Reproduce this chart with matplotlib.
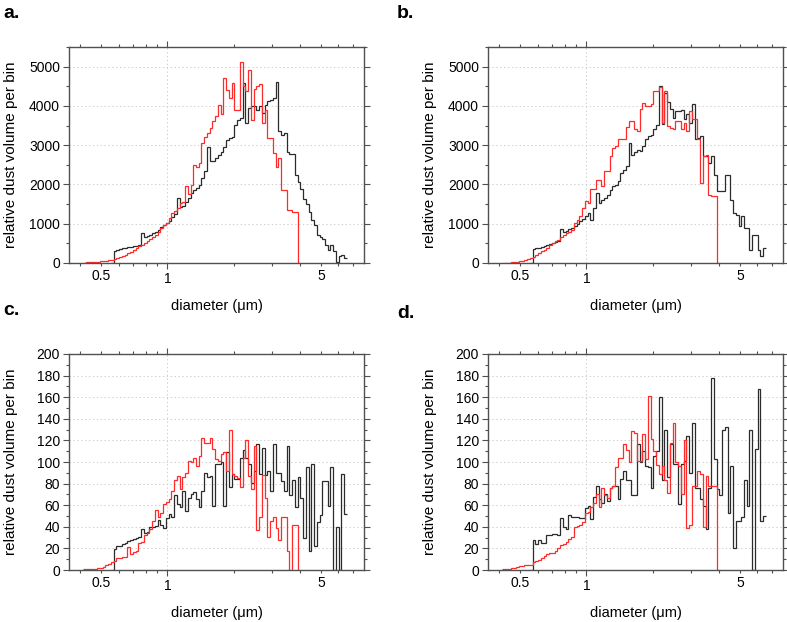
import numpy as np
import matplotlib
matplotlib.use("Agg")
import matplotlib.pyplot as plt
from matplotlib.ticker import MultipleLocator, LogLocator, FuncFormatter

plt.rcParams['font.family'] = ['Liberation Sans', 'DejaVu Sans']

# log-spaced bin edges (diameter, um)
bin_start = 0.38
bin_step_dec = 0.0125
edges = 10 ** (np.log10(bin_start) + bin_step_dec * np.arange(100))

# ---- panel a ----
a_black_start = 13
a_black = [0, 314, 340, 355, 370, 385, 400, 415, 430, 440, 450, 757, 655, 680, 720, 760, 800, 850, 910, 960,
           1030, 1080, 1180, 1250, 1666, 1436, 1450, 1560, 1650, 1773, 1850, 1900, 1989, 2160, 2330, 2966,
           2585, 2600, 2680, 2750, 2830, 2950, 3136, 3179, 3200, 3519, 3647, 3700, 4581, 3561, 3944, 3987,
           3990, 3902, 3990, 3817, 4030, 4114, 4157, 4200, 4600, 3349, 3264, 3300, 2830, 2788, 2788, 2235,
           2065, 1895, 1640, 1512, 1300, 1097, 961, 706, 650, 621, 451, 324, 451, 300, 26, 170, 196, 136]
a_red_start = 3
a_red = [10, 15, 20, 25, 30, 35, 40, 45, 55, 65, 80, 100, 125, 150, 180, 210, 250, 290, 330, 380, 425, 470,
         510, 550, 610, 660, 720, 800, 890, 960, 1020, 1150, 1270, 1330, 1400, 1530, 1550, 1950, 1750, 1990,
         2500, 2450, 2550, 3056, 3200, 3307, 3434, 3604, 3748, 4030, 3800, 4709, 4411, 4199, 4581, 3900,
         3900, 5108, 4496, 4369, 4922, 3647, 4428, 4500, 4556, 3561, 3900, 3179, 3179, 2796, 2456, 2669,
         1861, 1861, 1351, 1351, 1309, 1309, 0]

# ---- panel b ----
b_black_start = 13
b_black = [0, 357, 370, 390, 410, 425, 450, 480, 510, 527, 560, 867, 782, 820, 860, 892, 935, 1000, 1062, 1120,
           1190, 1275, 1105, 1400, 1785, 1530, 1600, 1657, 1742, 1870, 1955, 1997, 2100, 2295, 2380, 2465,
           3060, 2762, 2830, 2890, 2860, 2975, 3145, 3230, 3250, 3417, 3502, 4505, 3527, 4335, 4100, 3910,
           3697, 3867, 3880, 3893, 3655, 3800, 3570, 4037, 3145, 3187, 3230, 2720, 2720, 2550, 2720, 2252,
           1827, 1827, 1827, 2252, 2252, 1615, 1275, 1232, 935, 1190, 892, 892, 340, 722, 722, 340, 170, 382]
b_red_start = 3
b_red = [5, 8, 12, 16, 22, 30, 42, 55, 75, 100, 127, 160, 200, 250, 297, 340, 390, 467, 500, 550, 595, 650,
         722, 760, 800, 850, 1020, 1100, 1190, 1400, 1590, 1530, 1887, 1887, 2125, 2125, 1955, 2337, 2337,
         2720, 2932, 2975, 3145, 3145, 3145, 3468, 3612, 3612, 3400, 3357, 3910, 4080, 3995, 3995, 4037,
         4377, 4377, 4488, 3570, 4377, 3485, 3442, 3400, 3612, 3612, 3400, 3570, 3357, 3867, 3655, 3655,
         3145, 2040, 2720, 2762, 1742, 1700, 1700, 0]

# ---- panel c ----
c_black_start = 13
c_black = [0, 19, 22, 22, 24, 25, 27, 28, 29, 30, 31, 38, 34, 35, 40, 40, 41, 46, 42, 39, 48, 52, 49, 69, 61,
           58, 73, 55, 67, 70, 72, 66, 58, 73, 90, 86, 87, 59, 98, 98, 100, 59, 109, 77, 89, 84, 84, 104, 111,
           104, 98, 81, 92, 117, 89, 113, 88, 92, 73, 117, 90, 90, 82, 73, 115, 69, 83, 58, 86, 67, 30, 95,
           18, 98, 22, 44, 51, 82, 82, 59, 95, 0, 40, 0, 89, 52]
c_red_start = 3
c_red = [1, 1, 1, 1, 1, 2, 2, 3, 5, 6, 7, 8, 11, 11, 12, 12, 21, 15, 17, 18, 25, 26, 32, 34, 38, 45, 56, 49,
         53, 61, 63, 66, 73, 83, 87, 75, 86, 90, 101, 100, 104, 96, 106, 122, 118, 118, 122, 112, 103, 101,
         107, 109, 92, 130, 89, 87, 85, 77, 104, 120, 87, 75, 115, 37, 49, 88, 67, 31, 45, 49, 39, 28, 49,
         49, 18, 0, 42, 42, 0]

# ---- panel d ----
d_black_start = 13
d_black = [0, 28, 24, 28, 25, 25, 32, 32, 33, 33, 32, 48, 40, 38, 51, 49, 49, 49, 48, 48, 57, 59, 47, 68, 78,
           66, 62, 70, 64, 76, 78, 78, 66, 84, 92, 83, 83, 69, 69, 117, 100, 110, 96, 95, 76, 106, 110, 160,
           83, 130, 86, 117, 98, 98, 61, 98, 101, 124, 90, 136, 76, 76, 66, 59, 38, 76, 178, 103, 75, 69, 130,
           132, 53, 96, 20, 45, 45, 49, 83, 59, 130, 0, 112, 168, 45, 50]
d_red_start = 3
d_red = [0.5, 1, 1, 1.5, 2, 3, 4, 4, 5, 5, 5, 7, 8, 9, 11, 13, 15, 16, 16, 18, 20, 23, 24, 26, 29, 31, 40, 41,
         42, 44, 53, 54, 58, 62, 70, 58, 76, 69, 67, 76, 78, 95, 104, 104, 117, 111, 100, 129, 127, 101, 101,
         126, 103, 161, 121, 110, 97, 89, 96, 83, 71, 118, 136, 100, 96, 70, 120, 39, 42, 78, 78, 92, 89, 40,
         87, 78, 78, 78, 0]

panels = [
    ("a.", a_black_start, a_black, a_red_start, a_red, 5500, 1000, 500),
    ("b.", b_black_start, b_black, b_red_start, b_red, 5500, 1000, 500),
    ("c.", c_black_start, c_black, c_red_start, c_red, 200, 20, 10),
    ("d.", d_black_start, d_black, d_red_start, d_red, 200, 20, 10),
]

W, H = 787, 622
fig = plt.figure(figsize=(W / 100, H / 100), dpi=100)

boxes = [(69, 47), (488, 47), (69, 354), (488, 354)]
aw, ah = 295, 216
letter_pos = [(3, 18), (397, 18), (3, 315), (397, 318)]

SPINE = '#505050'


def minor_fmt(x, pos):
    for v, s in ((0.5, '0.5'), (5, '5')):
        if abs(x - v) < 1e-6 * v:
            return s
    return ''


for k, (letter, bs, bv, rs, rv, ymax, ymaj, ymin) in enumerate(panels):
    x0, y0 = boxes[k]
    ax = fig.add_axes([x0 / W, 1 - (y0 + ah) / H, aw / W, ah / H])
    ax.set_xscale('log')
    ax.grid(True, which='major', linestyle=(0, (1.5, 2.5)), color='#d0d0d0', linewidth=0.7)
    ax.set_axisbelow(True)
    ax.stairs(bv, edges[bs:bs + len(bv) + 1], baseline=None, color='#2b2b2b', linewidth=0.9)
    ax.stairs(rv, edges[rs:rs + len(rv) + 1], baseline=None, color='#ff2a2a', linewidth=0.9)
    ax.set_xlim(0.356, 7.85)
    ax.set_ylim(0, ymax)
    ax.xaxis.set_major_locator(LogLocator(base=10))
    ax.xaxis.set_minor_locator(LogLocator(base=10, subs=[2, 3, 4, 5, 6, 7, 8, 9]))
    ax.xaxis.set_major_formatter(FuncFormatter(lambda x, p: '1' if abs(x - 1) < 1e-9 else ''))
    ax.xaxis.set_minor_formatter(FuncFormatter(minor_fmt))
    ax.yaxis.set_major_locator(MultipleLocator(ymaj))
    ax.yaxis.set_minor_locator(MultipleLocator(ymin))
    ax.tick_params(which='both', direction='out', top=True, right=True, labeltop=False,
                   labelright=False, colors=SPINE, labelcolor='black', labelsize=10, width=0.8)
    ax.tick_params(which='major', length=4.5, pad=2)
    ax.tick_params(which='minor', length=2.5, pad=2)
    for sp in ax.spines.values():
        sp.set_color(SPINE)
        sp.set_linewidth(1.0)
    ax.set_xlabel('diameter (\u03bcm)', fontsize=10.5)
    ax.set_ylabel('relative dust volume per bin', fontsize=11)
    ax.xaxis.set_label_coords(0.5, -0.165)
    ax.yaxis.set_label_coords(-0.172, 0.5)
    lx, ly = letter_pos[k]
    fig.text(lx / W, 1 - ly / H, letter, fontsize=14, fontweight='bold', va='baseline', ha='left')

fig.savefig('out.png', dpi=100)
